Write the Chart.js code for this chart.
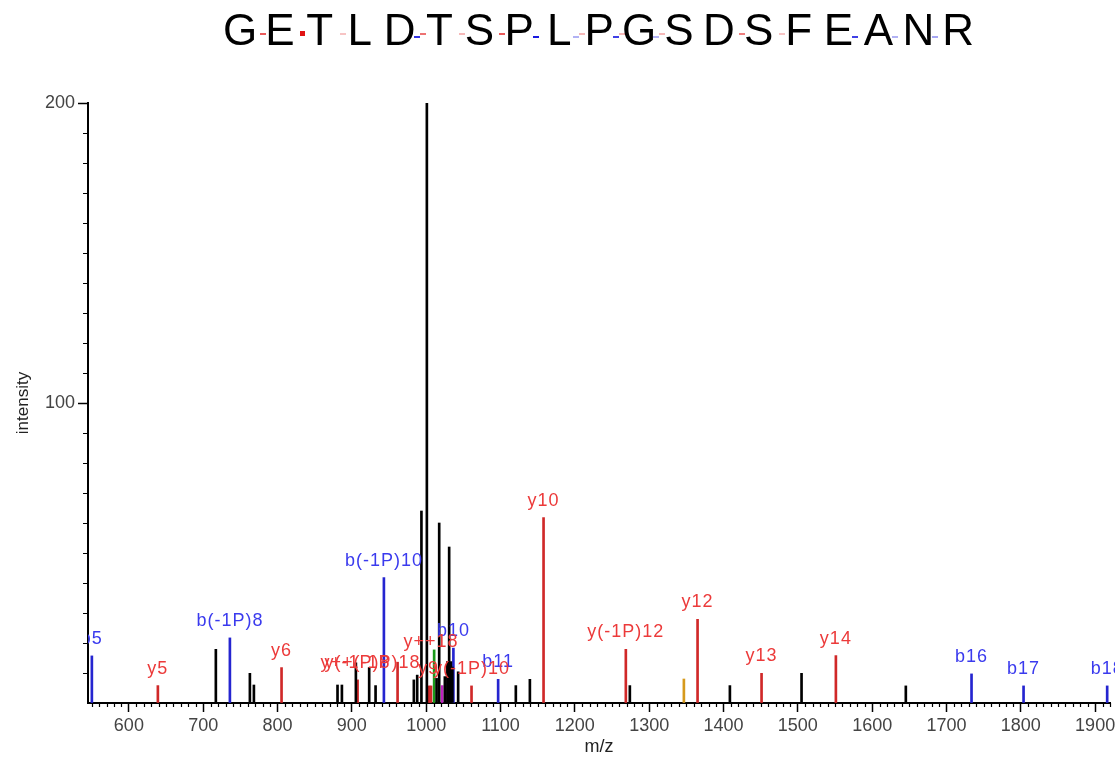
<!DOCTYPE html>
<html>
<head>
<meta charset="utf-8">
<script src="https://cdn.jsdelivr.net/npm/chart.js@4.4.0/dist/chart.umd.min.js"></script>
<style>
  html, body { margin: 0; padding: 0; background: #fff; }
  #wrap { position: relative; width: 1115px; height: 758px; overflow: hidden; }
  #seq { position: absolute; left: 0; top: 0; width: 1115px; height: 60px; font-family: "Liberation Sans", Arial, sans-serif; }
  .aa { position: absolute; top: 8px; font-size: 44px; line-height: 1; color: #000; transform: translateX(-50%); }
  .cut { position: absolute; }
  canvas { position: absolute; left: 0; top: 0; }
</style>
</head>
<body>
<div id="wrap">
  <canvas id="spec" width="1115" height="758"></canvas>
  <div id="seq"></div>
</div>
<script>
// peptide + fragment coverage (0 = no cut seen, 1 = strongest)
const sequence = 'GETLDTSPLPGSDSFEANR';
const bCoverage = [0, 0, 0, 0, 0.8, 0, 0, 0.9, 0.3, 0.75, 0.3, 0, 0, 0, 0, 0.75, 0.3, 0.35];
const yCoverage = [0.7, 1, 0.25, 0, 0.6, 0.3, 0.7, 0, 0.3, 0.3, 0.3, 0, 0.55, 0.25, 0, 0, 0, 0];

// unassigned peaks
const otherMz  = [717.0, 762.8, 768.2, 880.7, 886.6, 905.4, 923.3, 931.9, 983.4, 987.9, 993.6, 1000.9, 1014.0, 1017.5, 1025.1, 1028.5, 1030.9, 1033.2, 1035.2, 1043.0, 1120.6, 1139.5, 1274.0, 1408.6, 1505.0, 1645.3];
const otherInt = [17.9, 9.9, 6.0, 6.0, 6.0, 13.4, 11.8, 5.8, 7.7, 9.3, 64.0, 200, 8.2, 60.0, 8.8, 13.8, 52.0, 13.8, 12.0, 10.4, 5.8, 7.9, 5.8, 5.8, 9.9, 5.7];
// y ions
const yMz  = [639.0, 805.4, 907.7, 961.5, 1004.0, 1006.5, 1061.0, 1157.9, 1268.6, 1365.1, 1451.2, 1551.2];
const yInt = [5.8, 11.8, 7.7, 13.6, 5.7, 5.7, 5.7, 61.8, 17.9, 27.9, 9.9, 15.8];
// b ions
const bMz  = [550.2, 735.9, 943.1, 1036.6, 1096.8, 1733.7, 1803.7, 1916.2];
const bInt = [15.7, 21.7, 41.8, 18.3, 7.9, 9.7, 5.7, 5.7];
// misc ion types
const greenMz = [1010.7],  greenInt = [17.7];
const pinkMz  = [1021.5],  pinkInt  = [5.8];
const goldMz  = [1346.7],  goldInt  = [8.0];

// annotations
const yLabels   = ['y5', 'y6', 'y(-1P)8', 'y++(-1P)18', 'y++18', 'y9', 'y(-1P)10', 'y10', 'y(-1P)12', 'y12', 'y13', 'y14'];
const yLabelMz  = [639.0, 805.4, 907.7, 925.0, 1006.5, 1003.0, 1061.0, 1157.9, 1268.6, 1365.1, 1451.2, 1551.2];
const yLabelInt = [5.8, 11.8, 7.7, 7.7, 14.5, 5.7, 5.7, 61.8, 17.9, 27.9, 9.9, 15.8];
const bLabels   = ['b5', 'b(-1P)8', 'b(-1P)10', 'b10', 'b11', 'b16', 'b17', 'b18'];
const bLabelMz  = bMz;
const bLabelInt = bInt;

const xTickStep = 100, xMinorStep = 10;
const yTickStep = 100, yMinorStep = 10;

const FONT = '"Liberation Sans", Arial, sans-serif';

function buildSequence() {
  const el = document.getElementById('seq');
  const x0 = 240, step = 39.9;
  [...sequence].forEach((aa, i) => {
    const s = document.createElement('span');
    s.className = 'aa';
    s.textContent = aa;
    s.style.left = (x0 + i * step) + 'px';
    el.appendChild(s);
  });
  for (let i = 0; i < sequence.length - 1; i++) {
    const mid = x0 + (i + 0.5) * step;
    if (bCoverage[i] > 0) addCut(el, mid - 6, 36, '0,0,220', bCoverage[i]);
    if (yCoverage[i] > 0) addCut(el, mid, 33, '225,20,20', yCoverage[i]);
  }
}
function addCut(el, x, y, rgb, a) {
  const d = document.createElement('div');
  d.className = 'cut';
  const big = a >= 0.95;
  d.style.left = x + 'px';
  d.style.top = (big ? y - 2 : y) + 'px';
  d.style.width = (big ? 5 : 6) + 'px';
  d.style.height = (big ? 5 : 2) + 'px';
  d.style.background = `rgba(${rgb},${a})`;
  el.appendChild(d);
}

const pts = (mz, it) => mz.map((m, i) => ({ x: m, y: it[i] }));

const minorTicks = {
  id: 'minorTicks',
  afterDraw(chart) {
    const { ctx, chartArea: a, scales: { x, y } } = chart;
    ctx.save();
    ctx.strokeStyle = '#000';
    ctx.lineWidth = 1.2;
    ctx.beginPath();
    for (let v = Math.ceil(x.min / xMinorStep) * xMinorStep; v <= x.max; v += xMinorStep) {
      if (v % xTickStep === 0) continue;
      const px = Math.round(x.getPixelForValue(v)) + 0.5;
      ctx.moveTo(px, a.bottom); ctx.lineTo(px, a.bottom + 4);
    }
    for (let v = y.min + yMinorStep; v < y.max; v += yMinorStep) {
      if (v % yTickStep === 0) continue;
      const py = Math.round(y.getPixelForValue(v)) + 0.5;
      ctx.moveTo(a.left - 5, py); ctx.lineTo(a.left, py);
    }
    ctx.stroke();
    ctx.restore();
  }
};

const peakLabels = {
  id: 'peakLabels',
  afterDatasetsDraw(chart) {
    const { ctx, chartArea: a, scales: { x, y } } = chart;
    ctx.save();
    ctx.beginPath();
    ctx.rect(a.left, 0, chart.width - a.left, a.bottom);
    ctx.clip();
    ctx.font = '18px ' + FONT;
    ctx.letterSpacing = '1px';
    ctx.textAlign = 'center';
    ctx.textBaseline = 'middle';
    const draw = (txt, mz, it, col) => txt.forEach((t, i) => {
      ctx.fillStyle = col;
      ctx.fillText(t, x.getPixelForValue(mz[i]), y.getPixelForValue(it[i]) - 17);
    });
    draw(bLabels, bLabelMz, bLabelInt, '#3a3aee');
    draw(yLabels, yLabelMz, yLabelInt, '#ec3a3a');
    ctx.restore();
  }
};

function init() {
  buildSequence();
  Chart.defaults.font.family = FONT;
  const tickFont = { size: 18 };
  new Chart(document.getElementById('spec'), {
    type: 'bar',
    data: {
      datasets: [
        { label: 'other', data: pts(otherMz, otherInt), backgroundColor: '#000' },
        { label: 'green', data: pts(greenMz, greenInt), backgroundColor: '#1a9a1a' },
        { label: 'pink',  data: pts(pinkMz, pinkInt),   backgroundColor: '#c020c0' },
        { label: 'gold',  data: pts(goldMz, goldInt),   backgroundColor: '#d69a1c' },
        { label: 'b',     data: pts(bMz, bInt),         backgroundColor: '#2525d0' },
        { label: 'y',     data: pts(yMz, yInt),         backgroundColor: '#d02828' }
      ]
    },
    options: {
      responsive: false,
      animation: false,
      layout: { padding: { top: 103, right: 5, left: 0, bottom: 0 } },
      datasets: { bar: { barThickness: 2, grouped: false, borderWidth: 0 } },
      plugins: { legend: { display: false }, tooltip: { enabled: false } },
      scales: {
        x: {
          type: 'linear', min: 545, max: 1920, offset: false,
          afterFit: s => { s.height = 55; s.paddingRight = 0; s.paddingLeft = 0; },
          border: { color: '#000', width: 2 },
          grid: { offset: false, drawOnChartArea: false, tickLength: 9, tickColor: '#000', tickWidth: 1.5 },
          ticks: { stepSize: xTickStep, includeBounds: false, autoSkip: false, maxRotation: 0, padding: 3, color: '#444', font: tickFont,
                   callback: v => String(v) },
          title: { display: true, text: 'm/z', color: '#222', font: { size: 18 }, padding: { top: 0, bottom: 0 } }
        },
        y: {
          min: 0, max: 200,
          afterFit: s => { s.width = 88; },
          border: { color: '#000', width: 2 },
          grid: { drawOnChartArea: false, tickLength: 10, tickWidth: 1.5,
                  tickColor: c => c.tick && c.tick.value === 0 ? 'rgba(0,0,0,0)' : '#000' },
          ticks: { stepSize: yTickStep, padding: 3, color: '#444', font: tickFont,
                   callback: v => v === 0 ? '' : String(v) },
          title: { display: true, text: 'intensity', color: '#222', font: { size: 17 }, padding: { top: 13, bottom: 0 } }
        }
      }
    },
    plugins: [minorTicks, peakLabels]
  });
}

document.addEventListener('DOMContentLoaded', init);
</script>
</body>
</html>
